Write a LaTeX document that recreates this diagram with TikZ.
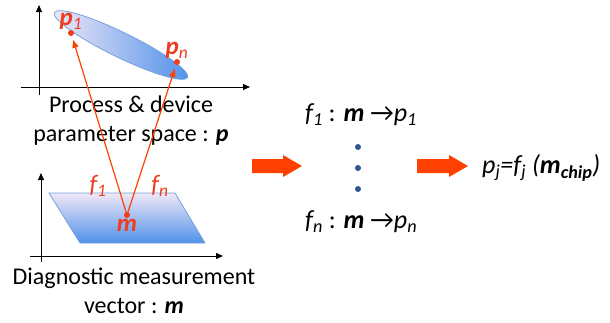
\documentclass[tikz,border=0pt]{standalone}
\usepackage{fontspec}
\setmainfont{Carlito}
\usetikzlibrary{arrows.meta,positioning,shapes.geometric}
\definecolor{arrred}{RGB}{255,64,0}
\definecolor{labred}{RGB}{240,60,30}
\definecolor{paleblue}{RGB}{240,232,248}
\definecolor{deepblue}{RGB}{80,145,232}
\definecolor{rimblue}{RGB}{120,160,220}
\definecolor{dotblue}{RGB}{47,85,151}
\tikzset{
    axis/.style={line width=1pt, -{Triangle[length=7pt,width=6pt]}},
    pdot/.style={circle, fill=labred, inner sep=0pt, minimum size=6pt},
    redlab/.style={text=labred, font=\fontsize{25}{26}\selectfont\itshape},
    maptext/.style={font=\fontsize{26}{28}\selectfont, anchor=west, inner sep=0pt},
    captext/.style={font=\fontsize{24}{29}\selectfont, align=center, inner sep=0pt},
    vdot/.style={circle, fill=dotblue, inner sep=0pt, minimum size=6pt},
    bigarrow/.style={fill=arrred},
    link/.style={draw=arrred, line width=1.2pt, -{Triangle[length=8pt,width=6pt]}, shorten >=4pt}
}
\begin{document}
\begin{tikzpicture}[x=1pt,y=-1pt]
    \useasboundingbox (0,0) rectangle (610,322);

    % parameter space
    \draw[axis] (39,95) -- (39,5);
    \draw[axis] (21,87) -- (250,87);
    \node[ellipse, minimum width=148pt, minimum height=25pt, rotate=-26,
        left color=paleblue, right color=deepblue, draw=rimblue, line width=0.8pt] (cloud) at (121,45) {};
    \node[pdot] (p1) at (71,33) {};
    \node[pdot] (pn) at (177,62) {};
    \node[redlab, above=-3pt of p1] (p1lab) {\textbf{p}\textsubscript{1}};
    \node[redlab, above=-3pt of pn] (pnlab) {\textbf{p}\textsubscript{n}};
    \node[captext] (pcap) at (131,121) {Process \& device\\parameter space : \textbf{\textit{p}}};

    % measurement space
    \draw[axis] (41,262) -- (41,173);
    \draw[axis] (30,256) -- (223,256);
    \shade[top color=paleblue, bottom color=deepblue, draw=rimblue, line width=0.8pt]
        (49,193) -- (175,193) -- (205,243) -- (80,243) -- cycle;
    \node[pdot] (m) at (127,215) {};
    \node[redlab, below=-3pt of m] (mlab) {\textbf{m}};
    \node[redlab] (f1lab) at (98,186) {f\textsubscript{1}};
    \node[redlab] (fnlab) at (160,186) {f\textsubscript{n}};
    \draw[link] (m) -- (p1);
    \draw[link] (m) -- (pn);
    \node[captext] (mcap) at (134,291) {Diagnostic measurement\\vector : \textbf{\textit{m}}};

    % mappings
    \fill[bigarrow] (252,159) -- (283,159) -- (283,155) -- (302,166) -- (283,177) -- (283,173) -- (252,173) -- cycle;
    \node[maptext] (map1) at (305,115) {\textit{f\textsubscript{1}} : \textbf{\textit{m}} →\textit{p\textsubscript{1}}};
    \node[vdot] (d1) at (358,147) {};
    \node[vdot] (d2) at (358,168) {};
    \node[vdot] (d3) at (358,189) {};
    \node[maptext] (mapn) at (305,222) {\textit{f\textsubscript{n}} : \textbf{\textit{m}} →\textit{p\textsubscript{n}}};
    \fill[bigarrow] (417,159) -- (449,159) -- (449,155) -- (468,166) -- (449,177) -- (449,173) -- (417,173) -- cycle;
    \node[maptext] (chip) at (482,168) {\textit{p\textsubscript{j}=f\textsubscript{j} (\textbf{m\textsubscript{chip}})}};

\end{tikzpicture}
\end{document}
